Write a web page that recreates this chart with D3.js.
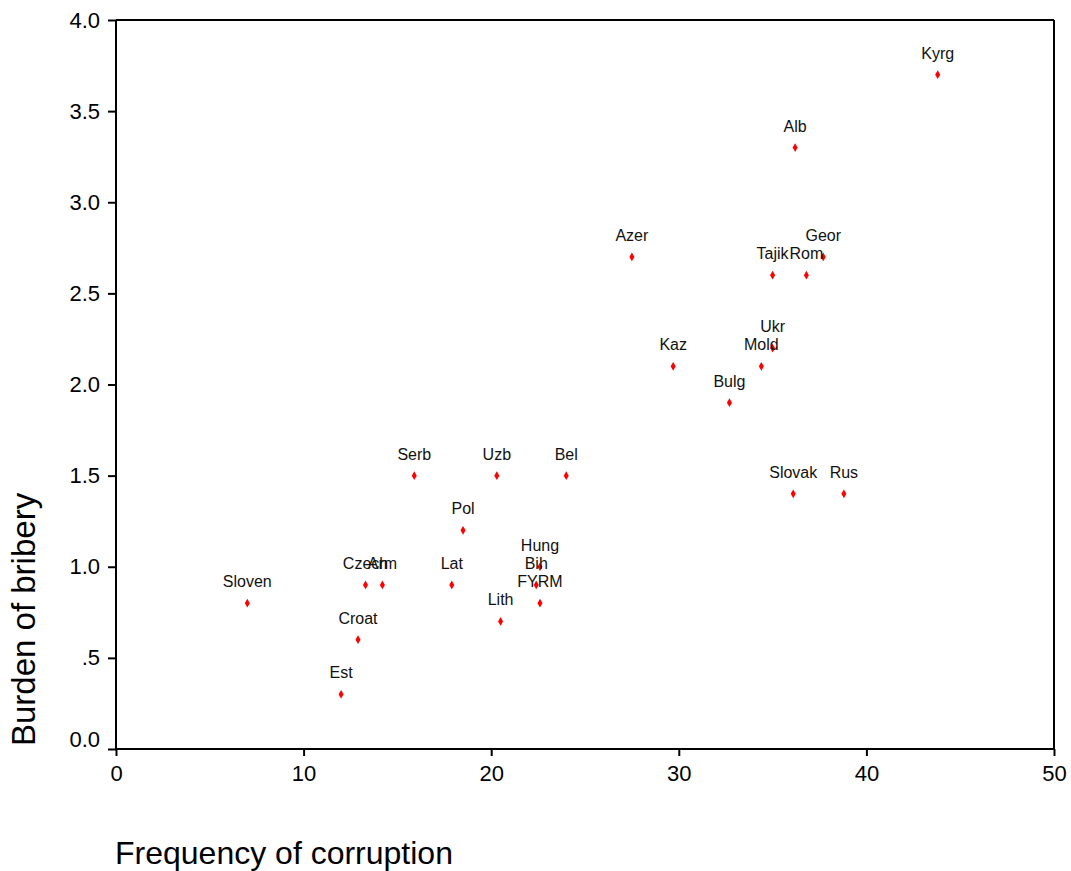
<!DOCTYPE html>
<html>
<head>
<meta charset="utf-8">
<script src="https://cdn.jsdelivr.net/npm/d3@7"></script>
<style>
  body { margin: 0; background: #fff; }
  text { font-family: Arial, "Liberation Sans", sans-serif; fill: #000; }
  .axis path, .axis line { stroke: #000; stroke-width: 2; }
  .tick text { font-size: 22px; }
  .label { font-size: 16px; fill: #111; }
</style>
</head>
<body>
<div id="chart"></div>
<script>

// countries, frequency of corruption (x) and burden of bribery (y)
var countries = ['Kyrg','Alb','Azer','Geor','Tajik','Rom','Kaz','Ukr','Mold','Bulg',
                 'Slovak','Rus','Serb','Uzb','Bel','Pol','Hung','Bih','FYRM','Lith',
                 'Czech','Arm','Lat','Croat','Est','Sloven'];
var frequency = [43.8, 36.2, 27.5, 37.7, 35.0, 36.8, 29.7, 35.0, 34.4, 32.7,
                 36.1, 38.8, 15.9, 20.3, 24.0, 18.5, 22.6, 22.4, 22.6, 20.5,
                 13.3, 14.2, 17.9, 12.9, 12.0, 7.0];
var bribery   = [3.7, 3.3, 2.7, 2.7, 2.6, 2.6, 2.1, 2.2, 2.1, 1.9,
                 1.4, 1.4, 1.5, 1.5, 1.5, 1.2, 1.0, 0.9, 0.8, 0.7,
                 0.9, 0.9, 0.9, 0.6, 0.3, 0.8];

var xTicks = [0, 10, 20, 30, 40, 50];
var yTicks = [0, 0.5, 1, 1.5, 2, 2.5, 3, 3.5, 4];
var yTickLabels = ['0.0', '.5', '1.0', '1.5', '2.0', '2.5', '3.0', '3.5', '4.0'];

var margin = {top:20, right:17, bottom:122, left:116};
var width = 1071 - margin.left - margin.right;
var height = 871 - margin.top - margin.bottom;

var points = countries.map(function(c, i) {
  return {name: c, x: frequency[i], y: bribery[i]};
});

var xScale = d3.scaleLinear().domain([0, 50]).range([0, width]);
var yScale = d3.scaleLinear().domain([0, 4]).range([height, 0]);

var svg = d3.select("#chart").append("svg")
    .attr("width", 1071)
    .attr("height", 871);

var g = svg.append("g")
    .attr("transform", "translate(" + margin.left + "," + margin.top + ")");

// frame: top and right edges
g.append("line").attr("x1", 0).attr("x2", width).attr("y1", 0).attr("y2", 0)
    .attr("stroke", "#000").attr("stroke-width", 2);
g.append("line").attr("x1", width).attr("x2", width).attr("y1", 0).attr("y2", height)
    .attr("stroke", "#000").attr("stroke-width", 2);

var xAxis = d3.axisBottom(xScale).tickValues(xTicks).tickSize(7).tickPadding(9)
    .tickFormat(d3.format("d"));
var yAxis = d3.axisLeft(yScale).tickValues(yTicks).tickSize(8).tickPadding(8)
    .tickFormat(function(d, i) { return yTickLabels[i]; });

g.append("g")
    .attr("class", "x axis")
    .attr("transform", "translate(0," + height + ")")
    .call(xAxis)
    .call(function(s) { s.select(".domain").attr("d", "M0,0H" + width); });

var yAxis_g = g.append("g")
    .attr("class", "y axis")
    .call(yAxis)
    .call(function(s) { s.select(".domain").attr("d", "M0," + height + "V0"); });

// the 0.0 label sits a bit above its tick
yAxis_g.selectAll(".tick text")
    .attr("dy", function(d) { return d === 0 ? "-0.1em" : "0.32em"; });

// markers
g.selectAll(".dot")
    .data(points)
    .enter()
    .append("path")
    .attr("class", "dot")
    .attr("d", d3.symbol().type(d3.symbolDiamond).size(22))
    .attr("transform", function(d) { return "translate(" + xScale(d.x) + "," + yScale(d.y) + ")"; })
    .attr("fill", "#ff0000");

// labels above each marker
g.selectAll(".label")
    .data(points)
    .enter()
    .append("text")
    .attr("class", "label")
    .attr("text-anchor", "middle")
    .attr("x", function(d) { return xScale(d.x); })
    .attr("y", function(d) { return yScale(d.y) - 16; })
    .text(function(d) { return d.name; });

// axis titles
svg.append("text")
    .attr("x", 115)
    .attr("y", 864)
    .style("font-size", "32px")
    .text("Frequency of corruption");

svg.append("text")
    .attr("transform", "translate(35,746) rotate(-90)")
    .style("font-size", "33px")
    .text("Burden of bribery");

</script>
</body>
</html>
